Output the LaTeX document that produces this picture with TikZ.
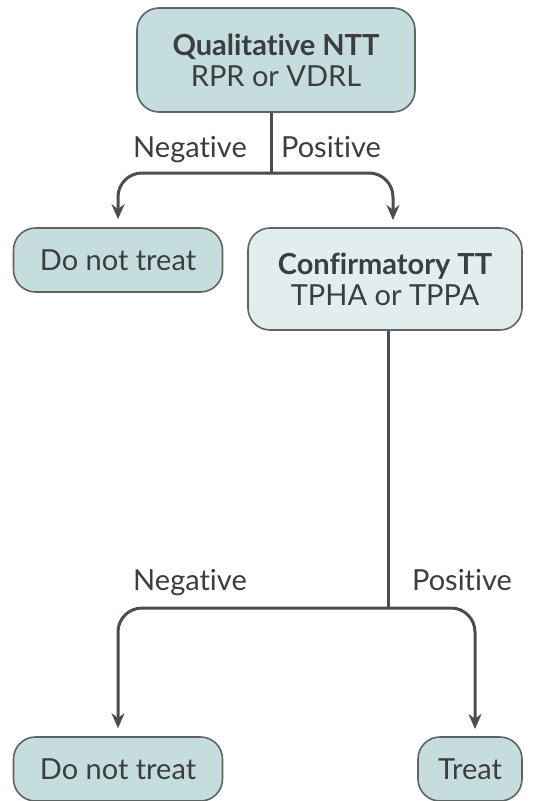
\documentclass[tikz,border=0pt]{standalone}
\usepackage{fontspec}
\setmainfont{Lato}[Ligatures=NoCommon]
\usetikzlibrary{arrows.meta}
\definecolor{boxfill}{HTML}{C6DDDD}
\definecolor{boxlight}{HTML}{E2EEEE}
\definecolor{boxline}{HTML}{5E6464}
\definecolor{linkgray}{HTML}{4A4E50}
\definecolor{textgray}{HTML}{3A3E40}

\tikzset{
  stepnode/.style={draw=boxline,line width=1.6pt,fill=boxfill,rounded corners=22pt,
    align=center,text=textgray,font=\fontsize{29}{31}\selectfont,inner sep=0pt},
  link/.style={draw=linkgray,line width=3pt,rounded corners=24pt},
  arr/.style={link,-{Stealth[length=15pt,width=13pt]},shorten >=8pt},
  lbl/.style={text=textgray,font=\fontsize{29}{31}\selectfont,anchor=base}
}

\begin{document}
\begin{tikzpicture}[x=1pt,y=-1pt]
\useasboundingbox (0,0) rectangle (542,801);
\fill[white] (0,0) rectangle (542,801);

\node[stepnode,minimum width=278pt,minimum height=104pt] (qntt) at (276,60)
  {\textbf{Qualitative NTT}\\RPR or VDRL};
\node[stepnode,minimum width=209pt,minimum height=64pt] (dnt1) at (118,260) {Do not treat};
\node[stepnode,fill=boxlight,minimum width=274pt,minimum height=102pt] (conf) at (385,279)
  {\textbf{Confirmatory TT}\\TPHA or TPPA};
\node[stepnode,minimum width=209pt,minimum height=64pt] (dnt2) at (118,769) {Do not treat};
\node[stepnode,minimum width=104pt,minimum height=64pt] (treat) at (470,769) {Treat};

% first split
\coordinate (j1) at (271,173);
\coordinate (c1) at (393,228);
\draw[link,rounded corners=0pt] (qntt.south -| j1) -- (j1);
\draw[arr] (j1) -| (dnt1.north);
\draw[arr] (j1) -| (c1);
\node[lbl] (neg1) at (190,157) {Negative};
\node[lbl] (pos1) at (331,157) {Positive};

% second split
\coordinate (j2) at (388,608);
\coordinate (t2) at (475,737);
\draw[link,rounded corners=0pt] (conf.south -| j2) -- (j2);
\draw[arr] (j2) -| (dnt2.north);
\draw[arr] (j2) -| (t2);
\node[lbl] (neg2) at (190,590) {Negative};
\node[lbl] (pos2) at (462,590) {Positive};
\end{tikzpicture}
\end{document}
